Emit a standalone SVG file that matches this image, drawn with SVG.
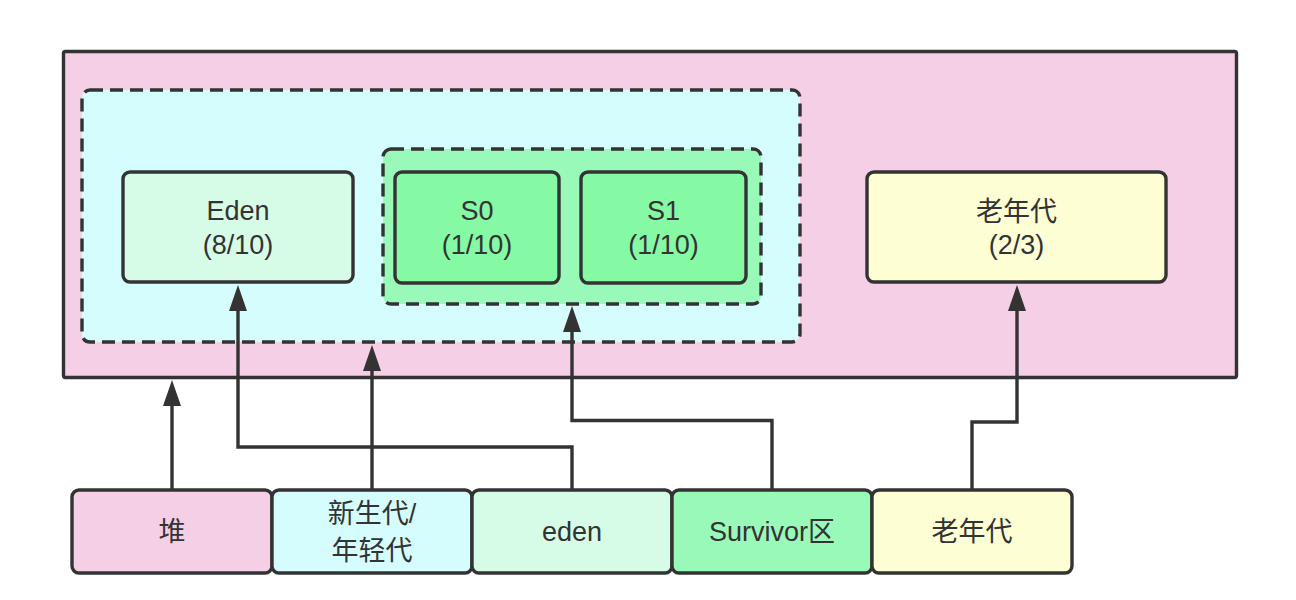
<svg xmlns="http://www.w3.org/2000/svg" width="1296" height="600" viewBox="0 0 1296 600">
<style>
.box{stroke:#333;stroke-width:3.4}
.dash{stroke:#333;stroke-width:3.4;stroke-dasharray:13 7}
.t{font-family:"Liberation Sans","Noto Sans CJK SC",sans-serif;font-size:27px;fill:#333;text-anchor:middle}
.c{fill:none;stroke:#333;stroke-width:3.4}
</style>
<defs>
<marker id="arr" viewBox="0 0 26 18" refX="16" refY="9" markerWidth="26" markerHeight="18" markerUnits="userSpaceOnUse" orient="auto">
<path d="M0,0 L26,9 L0,18 z" fill="#333"/>
</marker>
</defs>
<rect width="1296" height="600" fill="#ffffff"/>
<g id="heap"><rect class="box" x="63.5" y="51.5" width="1173" height="326" rx="2" fill="#f5cfe6"/></g>
<g id="young"><rect class="dash" x="82" y="90" width="718" height="252" rx="8" fill="#d6fdfd"/></g>
<g id="survivor"><rect class="dash" x="383" y="149" width="378" height="155" rx="8" fill="#98f9b9"/></g>
<g id="eden-box"><rect class="box" x="123" y="172" width="230" height="110" rx="7" fill="#d6fbe6"/>
<text class="t" x="238" y="220">Eden</text><text class="t" x="238" y="254">(8/10)</text></g>
<g id="s0"><rect class="box" x="395" y="172" width="164" height="111" rx="7" fill="#86f9a4"/>
<text class="t" x="477" y="220">S0</text><text class="t" x="477" y="254">(1/10)</text></g>
<g id="s1"><rect class="box" x="581" y="172" width="165" height="111" rx="7" fill="#86f9a4"/>
<text class="t" x="663.5" y="220">S1</text><text class="t" x="663.5" y="254">(1/10)</text></g>
<g id="old"><rect class="box" x="867" y="172" width="299" height="110" rx="7" fill="#fefed5"/>
<text class="t" x="1016.5" y="221">老年代</text><text class="t" x="1016.5" y="254">(2/3)</text></g>
<g id="connectors">
<path class="c" d="M172,489 V390" marker-end="url(#arr)"/>
<path class="c" d="M372,489 V355" marker-end="url(#arr)"/>
<path class="c" d="M572,489 V447 H238 V295" marker-end="url(#arr)"/>
<path class="c" d="M772,489 V420.5 H572 V316" marker-end="url(#arr)"/>
<path class="c" d="M972,489 V422 H1017 V295" marker-end="url(#arr)"/>
</g>
<g id="leg-heap"><rect class="box" x="72" y="490" width="200" height="83" rx="7" fill="#f5cfe6"/>
<text class="t" x="172" y="541">堆</text></g>
<g id="leg-young"><rect class="box" x="272" y="490" width="200" height="83" rx="7" fill="#d6fdfd"/>
<text class="t" x="372" y="523">新生代/</text><text class="t" x="372" y="560">年轻代</text></g>
<g id="leg-eden"><rect class="box" x="472" y="490" width="200" height="83" rx="7" fill="#d6fbe6"/>
<text class="t" x="572" y="541">eden</text></g>
<g id="leg-survivor"><rect class="box" x="672" y="490" width="200" height="83" rx="7" fill="#98f9b9"/>
<text class="t" x="772" y="541">Survivor区</text></g>
<g id="leg-old"><rect class="box" x="872" y="490" width="200" height="83" rx="7" fill="#fefed5"/>
<text class="t" x="972" y="541">老年代</text></g>
</svg>
